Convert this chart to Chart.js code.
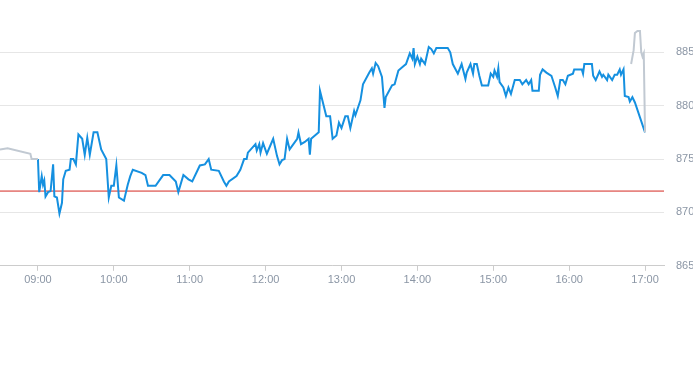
<!DOCTYPE html>
<html>
<head>
<meta charset="utf-8">
<script src="https://cdn.jsdelivr.net/npm/chart.js@4/dist/chart.umd.min.js"></script>
<style>
  html, body { margin: 0; padding: 0; background: #fff; }
  #wrap { width: 693px; height: 365px; position: relative; }
</style>
</head>
<body>
<div id="wrap"><canvas id="c"></canvas></div>
<script>
// Intraday price series (session)
const sessionTimes = ["09:00","09:01","09:03","09:04","09:05","09:06","09:08","09:10","09:12","09:13","09:15","09:17","09:19","09:20","09:22","09:25","09:26","09:28","09:30","09:32","09:35","09:37","09:39","09:41","09:44","09:47","09:50","09:54","09:56","09:58","10:00","10:02","10:04","10:08","10:11","10:13","10:15","10:22","10:25","10:27","10:33","10:39","10:44","10:49","10:51","10:55","10:59","11:02","11:08","11:12","11:15","11:17","11:23","11:27","11:29","11:31","11:37","11:40","11:43","11:45","11:46","11:52","11:53","11:55","11:56","11:58","12:01","12:06","12:09","12:11","12:13","12:15","12:17","12:19","12:25","12:26","12:28","12:31","12:34","12:35","12:36","12:39","12:42","12:43","12:48","12:51","12:53","12:56","12:58","13:00","13:03","13:05","13:07","13:10","13:11","13:15","13:17","13:22","13:24","13:25","13:27","13:29","13:32","13:34","13:35","13:40","13:42","13:45","13:48","13:51","13:54","13:56","13:57","13:58","14:00","14:02","14:03","14:06","14:09","14:11","14:13","14:15","14:24","14:26","14:28","14:32","14:35","14:38","14:39","14:42","14:44","14:45","14:47","14:49","14:51","14:56","14:58","15:00","15:01","15:03","15:04","15:05","15:08","15:10","15:12","15:14","15:17","15:21","15:23","15:26","15:28","15:30","15:31","15:36","15:37","15:39","15:42","15:46","15:49","15:51","15:53","15:55","15:57","15:59","16:03","16:04","16:10","16:11","16:12","16:18","16:19","16:21","16:24","16:26","16:27","16:30","16:31","16:34","16:36","16:38","16:40","16:41","16:43","16:44","16:47","16:48","16:50","16:52","17:00"];
const sessionValues = [875.0,871.9,873.4,872.6,873.0,871.5,871.9,872.0,874.5,871.5,871.4,869.9,870.9,873.1,873.9,874.0,875.0,875.0,874.5,877.3,876.9,875.4,877.0,875.4,877.5,877.5,875.9,875.0,871.4,872.5,872.5,874.4,871.4,871.1,872.6,873.4,874.0,873.7,873.5,872.5,872.5,873.5,873.5,872.9,871.9,873.5,873.1,872.9,874.4,874.5,875.0,874.0,873.9,872.9,872.5,872.9,873.4,874.0,875.0,875.0,875.6,876.4,875.8,876.4,875.6,876.5,875.5,876.9,875.3,874.5,874.9,875.0,876.9,875.9,876.9,877.5,876.4,876.6,876.9,875.4,876.9,877.2,877.5,881.4,879.0,879.0,876.9,877.2,878.4,877.9,879.0,879.0,877.9,879.5,879.1,880.5,882.0,883.1,883.5,883.0,884.0,883.7,882.7,879.8,880.8,881.9,882.0,883.3,883.6,883.9,884.9,884.4,885.4,883.9,884.6,883.9,884.4,883.9,885.5,885.3,884.9,885.4,885.4,885.0,883.9,883.0,883.9,882.5,883.1,883.9,883.0,883.9,883.9,882.8,881.9,881.9,883.0,882.7,883.3,882.7,883.5,882.2,881.7,880.9,881.7,881.1,882.4,882.4,882.0,882.4,882.0,882.4,881.4,881.4,882.9,883.4,883.1,882.8,881.7,880.9,882.4,882.4,882.0,882.8,883.0,883.4,883.4,883.0,883.9,883.9,882.8,882.4,883.2,882.7,882.9,882.4,882.9,882.4,882.9,882.9,883.4,882.9,883.4,880.9,880.8,880.4,880.8,880.3,877.5];

// Out-of-session series (grey)
const preTimes = ["08:30","08:36","08:54","08:55","09:00"];
const preValues = [875.9,876.0,875.5,875.0,875.0];
const postTimes = ["16:49","16:51","16:52","16:54","16:56","16:57","16:58","16:59","17:00"];
const postValues = [883.9,885.2,886.8,887.0,887.0,885.0,884.6,884.9,877.5];

// Reference level (red line)
const referenceLevel = 872;

// Axis ranges / ticks
const xStart = "08:30";
const xEnd = "17:15";
const xTickStepMinutes = 60;
const yMin = 865;
const yMax = 889.9;
const yStep = 5;

function toMin(t) { const [h, m] = t.split(":").map(Number); return h * 60 + m; }
function fmt(v) { const h = Math.floor(v / 60), m = Math.round(v % 60); return String(h).padStart(2, "0") + ":" + String(m).padStart(2, "0"); }
function pts(times, vals) { return times.map((t, i) => ({ x: toMin(t), y: vals[i] })); }

const labelColor = "#8b96a5";
const font = { family: "'Helvetica Neue', Helvetica, Arial, 'Liberation Sans', sans-serif", size: 11 };

new Chart(document.getElementById("c"), {
  type: "line",
  data: {
    datasets: [
      { data: [{ x: toMin(xStart), y: referenceLevel }, { x: toMin(xEnd), y: referenceLevel }], borderColor: "#d42a22", borderWidth: 1, pointRadius: 0, tension: 0, order: 3 },
      { data: pts(sessionTimes, sessionValues), borderColor: "#1590e0", borderWidth: 2, pointRadius: 0, tension: 0, order: 2 },
      { data: pts(preTimes, preValues), borderColor: "#c1c9d2", borderWidth: 2, pointRadius: 0, tension: 0, order: 1 },
      { data: pts(postTimes, postValues), borderColor: "#c1c9d2", borderWidth: 2, pointRadius: 0, tension: 0, order: 1 }
    ]
  },
  options: {
    responsive: true,
    maintainAspectRatio: false,
    animation: false,
    layout: { padding: { top: 0, left: 0, right: 0, bottom: 75 } },
    plugins: { legend: { display: false }, tooltip: { enabled: false } },
    scales: {
      x: {
        type: "linear",
        min: toMin(xStart),
        max: toMin(xEnd),
        grid: { drawOnChartArea: false, drawTicks: true, tickLength: 5, color: "#cccccc" },
        border: { display: true, color: "#cccccc" },
        ticks: { stepSize: xTickStepMinutes, includeBounds: false, autoSkip: false, maxRotation: 0, padding: 3, color: labelColor, font: font, callback: v => fmt(v) }
      },
      y: {
        position: "right",
        min: yMin,
        max: yMax,
        grid: { color: "#e6e6e6", drawTicks: false },
        border: { display: false },
        ticks: { stepSize: yStep, includeBounds: false, padding: 12, color: labelColor, font: font },
        afterFit: s => { s.paddingTop = 0; s.width = 29; }
      }
    }
  }
});
</script>
</body>
</html>
